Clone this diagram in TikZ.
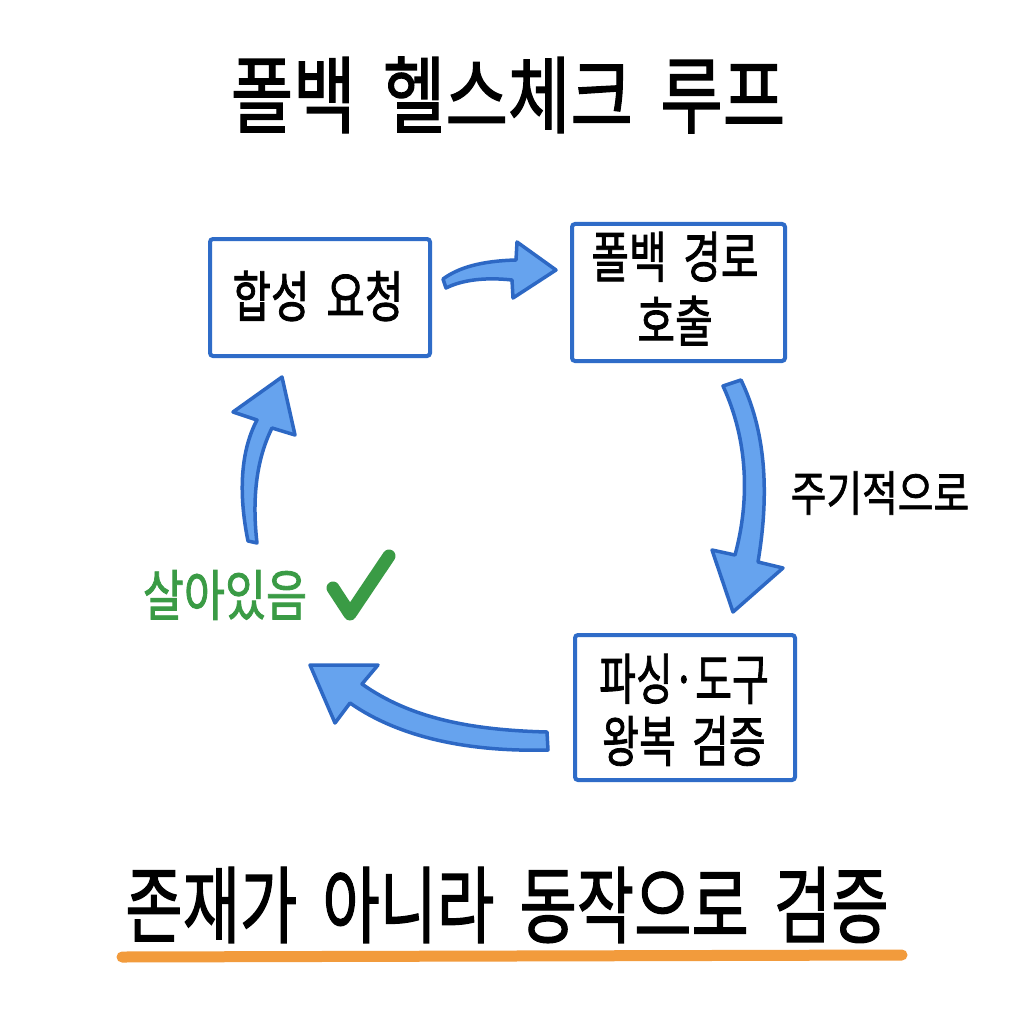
\documentclass[tikz,border=0pt]{standalone}
\usepackage{fontspec}
\setmainfont{Noto Sans CJK KR}[FakeBold=1.6]
\usepackage{graphicx}
\definecolor{boxblue}{HTML}{2F6CC8}
\definecolor{arrowfill}{HTML}{66A3EE}
\definecolor{arrowline}{HTML}{2D68C4}
\definecolor{okgreen}{HTML}{3A9B45}
\definecolor{underl}{HTML}{F29B3C}
\newcommand{\kt}[4]{\fontsize{#1}{#2}\selectfont\scalebox{#3}[1.2]{#4}}
\newcommand{\gap}{\hspace{0.18em}}
\begin{document}
\begin{tikzpicture}[x=1pt,y=-1pt,
  stepbox/.style={draw=boxblue, line width=4pt, rounded corners=3pt, fill=white, inner sep=0pt},
  blockarrow/.style={draw=arrowline, fill=arrowfill, line width=3.5pt, line join=round},
  txt/.style={inner sep=0pt, align=center, text=black}]
\useasboundingbox (0,0) rectangle (1024,1024);
\fill[white] (0,0) rectangle (1024,1024);

% title
\node[txt] (title) at (508,95) {\kt{70}{80}{0.97}{폴백 \gap{}헬스체크 \gap{}루프}};

% boxes
\node[stepbox, minimum width=220pt, minimum height=117pt] (req) at (320,297.5) {};
\node[stepbox, minimum width=213pt, minimum height=137pt] (call) at (678.5,292.5) {};
\node[stepbox, minimum width=220pt, minimum height=145pt] (check) at (685,707.5) {};

\node[txt] (reqt) at (318,296) {\kt{46}{55}{0.91}{합성 \gap{}요청}};
\node[txt] (callt) at (675,296) {\kt{46}{51}{0.89}{\begin{tabular}{@{}c@{}}폴백 \gap{}경로\\호출\end{tabular}}};
\node[txt] (checkt) at (684,716) {\kt{46}{46}{0.87}{\begin{tabular}{@{}c@{}}파싱·도구\\왕복 \gap{}검증\end{tabular}}};

% arrows
\draw[blockarrow] (443,279) .. controls (458,268) and (480,261) .. (516,260) -- (517,242) -- (556,270) -- (513,298) -- (512,280) .. controls (485,277) and (462,280) .. (446,288) -- cycle;
\draw[blockarrow] (723,386) .. controls (748,440) and (750,500) .. (735,555) -- (712,550) -- (733,612) -- (783,568) -- (758,562) .. controls (770,490) and (765,430) .. (741,380) -- cycle;
\draw[blockarrow] (547,732) .. controls (470,730) and (410,718) .. (362,684) -- (378,665) -- (310,665) -- (335,723) -- (350,703) .. controls (400,738) and (470,752) .. (548,750) -- cycle;
\draw[blockarrow] (248,541) .. controls (238,492) and (241,450) .. (257,420) -- (233,412) -- (282,377) -- (295,435) -- (272,428) .. controls (256,460) and (252,500) .. (257,543) -- cycle;

% labels
\node[txt] (period) at (880,493) {\kt{40}{48}{0.97}{주기적으로}};
\node[txt, text=okgreen] (alive) at (225,595) {\kt{46}{55}{0.97}{살아있음}};
\draw[okgreen, line width=13pt, line cap=round, line join=round] (333,588) -- (350,614) -- (389,556);

% bottom
\node[txt] (motto) at (507,905) {\kt{70}{80}{0.89}{존재가 \gap{}아니라 \gap{}동작으로 \gap{}검증}};
\draw[underl, line width=11pt, line cap=round] (122,957) -- (902,955);
\end{tikzpicture}
\end{document}
